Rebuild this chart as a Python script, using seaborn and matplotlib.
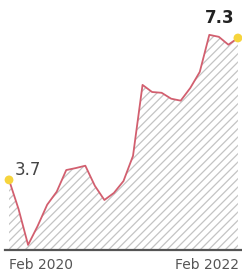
import numpy as np
import pandas as pd
import seaborn as sns
import matplotlib.pyplot as plt

# monthly values, Feb 2020 -> Feb 2022
values = [3.70, 2.96, 2.05, 2.53, 3.07, 3.40, 3.95, 4.00, 4.06, 3.55,
          3.19, 3.37, 3.67, 4.31, 6.11, 5.93, 5.91, 5.76, 5.71, 6.03,
          6.44, 7.38, 7.33, 7.13, 7.30]
tick_labels = ["Feb 2020", "Feb 2022"]
start_label = "3.7"
end_label = "7.3"

df = pd.DataFrame({"month": np.arange(len(values)), "value": values})

sns.set_style("white")
fig = plt.figure(figsize=(2.42, 2.76), dpi=100)
ax = fig.add_axes([0.0207, 0.094, 0.979, 0.834])

plt.rcParams['hatch.linewidth'] = 0.9
plt.rcParams['hatch.color'] = '#c4c4c4'
ax.fill_between(df.month, df.value, 1.92, facecolor='none',
                edgecolor='#c4c4c4', hatch='////', linewidth=0)

sns.lineplot(data=df, x="month", y="value", color="#d25f6f", lw=1.3, ax=ax)

# end markers
ends = df.iloc[[0, -1]]
ax.scatter(ends.month, ends.value, s=40, color="#f6d43c", zorder=5,
           clip_on=False, edgecolor='none')

ax.text(df.month.iloc[0] + 0.6, df.value.iloc[0] + 0.02, start_label,
        fontsize=12, color="#444444", ha="left", va="bottom")
ax.text(df.month.iloc[-1] - 1.9, df.value.iloc[-1] + 0.27, end_label,
        fontsize=12, fontweight="bold", color="#222222", ha="center", va="bottom")

ax.set_xlim(-0.42, 24.42)
ax.set_ylim(1.92, 7.76)
sns.despine(ax=ax, left=True, top=True, right=True)
ax.spines['bottom'].set_color('#555555')
ax.spines['bottom'].set_linewidth(1.6)
ax.set_xticks([])
ax.set_yticks([])
ax.set_xlabel("")
ax.set_ylabel("")

fig.text(9 / 242, 1 - 265 / 276, tick_labels[0], fontsize=10, color="#555555",
         ha="left", va="center")
fig.text(239 / 242, 1 - 265 / 276, tick_labels[1], fontsize=10, color="#555555",
         ha="right", va="center")

fig.savefig("out.png", dpi=100)
